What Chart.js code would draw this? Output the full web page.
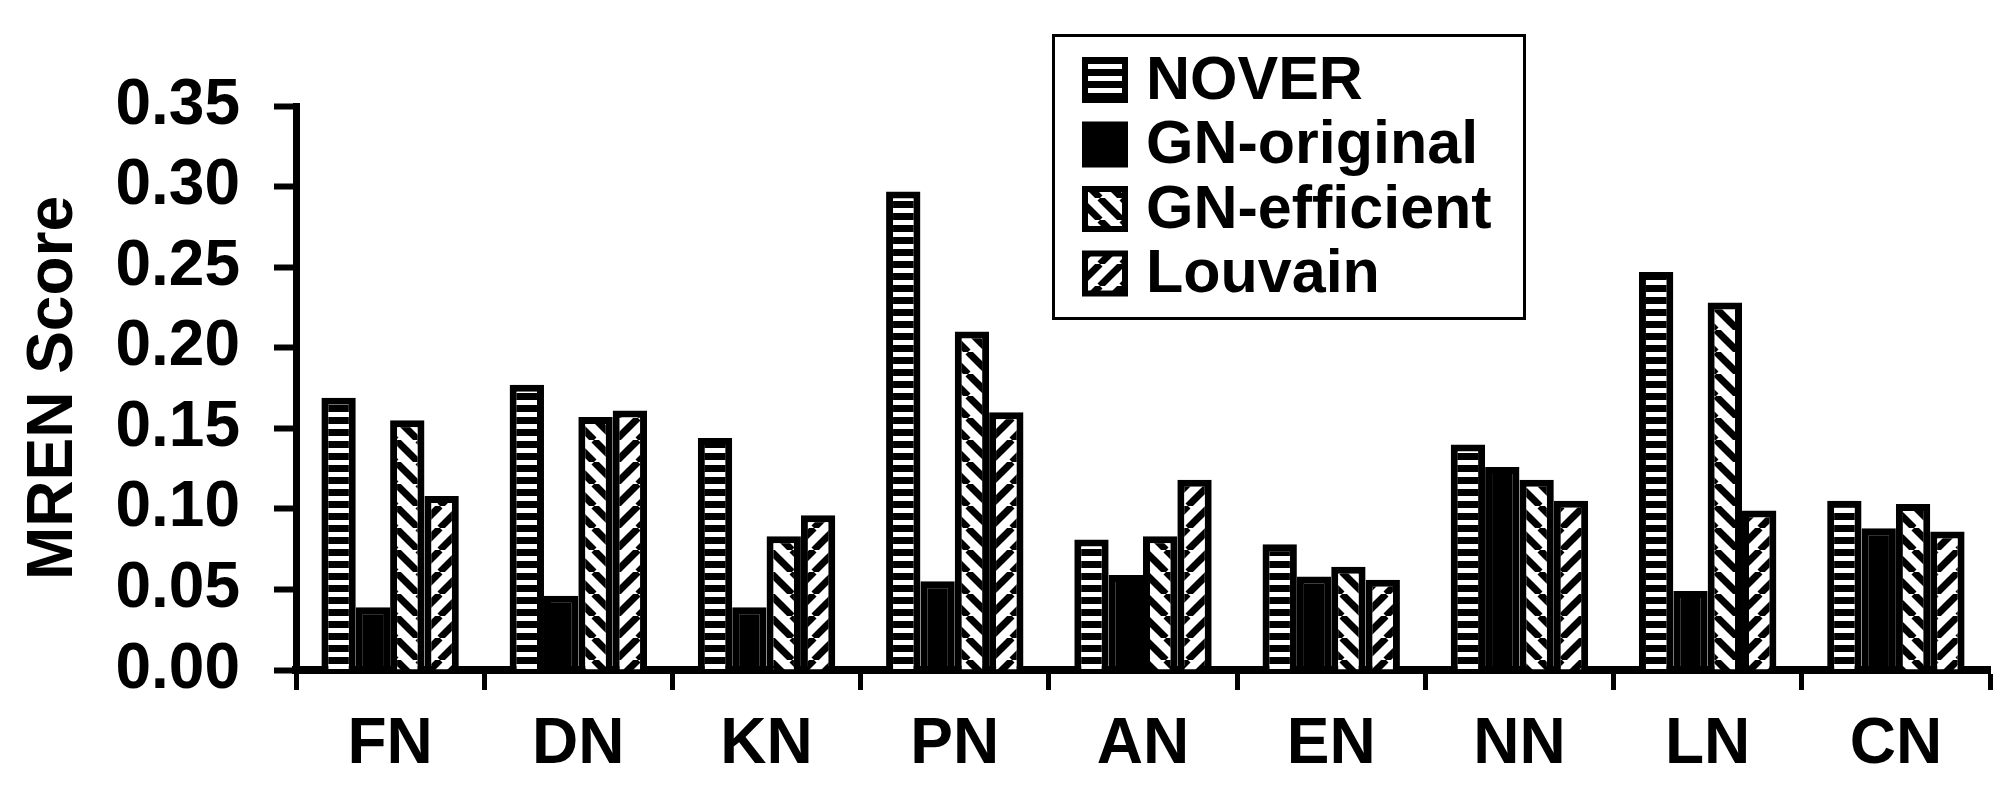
<!DOCTYPE html>
<html>
<head>
<meta charset="utf-8">
<script src="https://cdn.jsdelivr.net/npm/chart.js@4.4.1/dist/chart.umd.min.js"></script>
<style>
  html, body { margin: 0; padding: 0; background: #fff; }
  canvas { display: block; }
</style>
</head>
<body>
<canvas id="graph" width="2012" height="808"></canvas>
<script>
// networks on the x axis
const categories = ['FN', 'DN', 'KN', 'PN', 'AN', 'EN', 'NN', 'LN', 'CN'];

// MREN score of each method
const nover       = [0.169, 0.177, 0.144, 0.297, 0.081, 0.078, 0.140, 0.247, 0.105];
const gnOriginal  = [0.039, 0.046, 0.039, 0.055, 0.059, 0.058, 0.126, 0.049, 0.088];
const gnEfficient = [0.155, 0.157, 0.083, 0.210, 0.083, 0.064, 0.118, 0.228, 0.103];
const louvain     = [0.108, 0.161, 0.096, 0.160, 0.118, 0.056, 0.105, 0.099, 0.086];

const seriesNames = ['NOVER', 'GN-original', 'GN-efficient', 'Louvain'];
const yMin = 0, yMax = 0.35, yStep = 0.05;

Chart.defaults.font.family = '"Liberation Sans", Arial, sans-serif';
Chart.defaults.font.weight = 'bold';
Chart.defaults.color = '#000';

// black & white fill patterns like the old excel chart
function makePattern(kind) {
  var s = kind == 'hline' ? 12 : 22;
  var c = document.createElement('canvas');
  c.width = s; c.height = s;
  var g = c.getContext('2d');
  if (kind == 'hline') {
    g.fillStyle = '#000'; g.fillRect(0, 0, s, s);
    g.fillStyle = '#fff'; g.fillRect(0, 4, s, 5);
  } else {
    g.fillStyle = '#fff'; g.fillRect(0, 0, s, s);
    g.strokeStyle = '#000'; g.lineWidth = 7;
    for (var k = -1; k <= 1; k++) {
      g.beginPath();
      if (kind == 'back') { g.moveTo(k * s, 0); g.lineTo(k * s + s, s); }
      else { g.moveTo(k * s + s, 0); g.lineTo(k * s, s); }
      g.stroke();
    }
  }
  return g.createPattern(c, 'repeat');
}

var fills = [makePattern('hline'), '#000', makePattern('back'), makePattern('fwd')];
var values = [nover, gnOriginal, gnEfficient, louvain];

// legend box sitting inside the plot, top right
var boxLegend = {
  id: 'boxLegend',
  afterDraw: function(chart) {
    var ctx = chart.ctx;
    ctx.save();
    ctx.fillStyle = '#fff';
    ctx.fillRect(1053, 35, 471, 283);
    ctx.lineWidth = 3;
    ctx.strokeStyle = '#000';
    ctx.strokeRect(1053.5, 35.5, 471, 283);
    chart.data.datasets.forEach(function(ds, i) {
      var y = 80 + i * 64.5;
      ctx.fillStyle = '#000';
      ctx.fillRect(1082, y - 23, 46, 46);
      ctx.fillStyle = ds.backgroundColor;
      ctx.fillRect(1088, y - 17, 34, 34);
      ctx.fillStyle = '#000';
      ctx.font = 'bold 61px "Liberation Sans", Arial, sans-serif';
      ctx.textBaseline = 'middle';
      ctx.fillText(ds.label, 1146, y + 2);
    });
    ctx.restore();
  }
};

new Chart(document.getElementById('graph'), {
  type: 'bar',
  data: {
    labels: categories,
    datasets: seriesNames.map(function(name, i) {
      return {
        label: name,
        data: values[i],
        backgroundColor: fills[i],
        borderColor: '#000',
        borderWidth: 7,
        categoryPercentage: 0.73,
        barPercentage: 1.0
      };
    })
  },
  options: {
    responsive: false,
    animation: false,
    devicePixelRatio: 1,
    layout: { padding: { top: 106, right: 22, bottom: 0, left: 0 } },
    plugins: {
      legend: { display: false },
      tooltip: { enabled: false }
    },
    scales: {
      x: {
        offset: true,
        grid: { offset: true, drawOnChartArea: false, drawTicks: true, tickLength: 20, tickWidth: 5, tickColor: '#000' },
        border: { display: true, color: '#000', width: 8 },
        ticks: {
          color: '#000',
          maxRotation: 0,
          padding: 17,
          font: { family: '"Liberation Sans Narrow", "Liberation Sans", Arial, sans-serif', size: 64, weight: 'bold' }
        },
        afterFit: function(s) { s.height = 138; }
      },
      y: {
        min: yMin,
        max: yMax,
        grid: { drawOnChartArea: false, drawTicks: true, tickLength: 22, tickWidth: 6, tickColor: '#000' },
        border: { display: true, color: '#000', width: 7 },
        ticks: {
          stepSize: yStep,
          color: '#000',
          padding: 34,
          font: { size: 64, weight: 'bold' },
          callback: function(v) { return v.toFixed(2); }
        },
        title: {
          display: true,
          text: 'MREN Score',
          color: '#000',
          font: { size: 64, weight: 'bold' },
          padding: { top: 16, bottom: 0 }
        },
        afterFit: function(s) { s.width = 296; }
      }
    }
  },
  plugins: [boxLegend]
});
</script>
</body>
</html>
